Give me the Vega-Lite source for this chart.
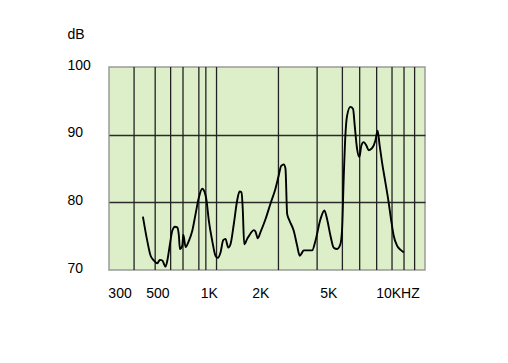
{
  "$schema": "https://vega.github.io/schema/vega-lite/v6.json",
  "width": 316,
  "height": 203,
  "autosize": {"type": "none"},
  "padding": {"left": 109, "top": 67, "right": 83, "bottom": 93},
  "background": "white",
  "config": {
    "view": {"fill": "#dcefc8", "stroke": "#9a9a9a", "strokeWidth": 1.5},
    "font": "Liberation Sans"
  },
  "datasets": {
    "grid": [
      {"f": 380}, {"f": 505}, {"f": 622}, {"f": 735}, {"f": 910}, {"f": 1000}, {"f": 1155},
      {"f": 2661}, {"f": 4482}, {"f": 6301}, {"f": 7955}, {"f": 10000}, {"f": 12303}, {"f": 14463}, {"f": 16683}
    ],
    "curve": [
      {"f": 428, "db": 77.9}, {"f": 454, "db": 74.3}, {"f": 475, "db": 72.1}, {"f": 497, "db": 71.4},
      {"f": 520, "db": 71.0}, {"f": 538, "db": 71.5}, {"f": 556, "db": 71.4}, {"f": 581, "db": 70.5},
      {"f": 595, "db": 71.4}, {"f": 616, "db": 73.8}, {"f": 636, "db": 75.8}, {"f": 659, "db": 76.4},
      {"f": 680, "db": 76.3}, {"f": 695, "db": 75.1}, {"f": 705, "db": 73.1}, {"f": 728, "db": 73.6},
      {"f": 738, "db": 75.2}, {"f": 761, "db": 73.4}, {"f": 795, "db": 74.3}, {"f": 833, "db": 75.8},
      {"f": 871, "db": 78.3}, {"f": 910, "db": 80.7}, {"f": 952, "db": 82.0}, {"f": 973, "db": 81.8},
      {"f": 1009, "db": 80.3}, {"f": 1041, "db": 77.3}, {"f": 1090, "db": 74.3}, {"f": 1139, "db": 72.1},
      {"f": 1175, "db": 71.8}, {"f": 1219, "db": 72.6}, {"f": 1264, "db": 74.4}, {"f": 1304, "db": 74.6},
      {"f": 1352, "db": 73.3}, {"f": 1394, "db": 73.8}, {"f": 1458, "db": 76.8}, {"f": 1526, "db": 80.3},
      {"f": 1575, "db": 81.6}, {"f": 1618, "db": 81.5}, {"f": 1646, "db": 78.8}, {"f": 1677, "db": 73.8},
      {"f": 1746, "db": 74.6}, {"f": 1826, "db": 75.4}, {"f": 1909, "db": 75.9}, {"f": 1952, "db": 75.7},
      {"f": 2014, "db": 74.7}, {"f": 2089, "db": 75.6}, {"f": 2234, "db": 77.5}, {"f": 2389, "db": 79.8},
      {"f": 2556, "db": 82.0}, {"f": 2673, "db": 84.0}, {"f": 2760, "db": 85.4}, {"f": 2858, "db": 85.6},
      {"f": 2925, "db": 85.0}, {"f": 2992, "db": 78.3}, {"f": 3088, "db": 77.3}, {"f": 3270, "db": 75.8},
      {"f": 3423, "db": 73.6}, {"f": 3546, "db": 72.1}, {"f": 3628, "db": 72.4}, {"f": 3742, "db": 72.9},
      {"f": 4003, "db": 72.9}, {"f": 4192, "db": 72.9}, {"f": 4381, "db": 74.3}, {"f": 4687, "db": 77.5},
      {"f": 4945, "db": 78.8}, {"f": 5128, "db": 77.5}, {"f": 5362, "db": 75.1}, {"f": 5605, "db": 73.3},
      {"f": 5868, "db": 73.1}, {"f": 6133, "db": 73.8}, {"f": 6277, "db": 76.1}, {"f": 6412, "db": 83.5},
      {"f": 6561, "db": 89.9}, {"f": 6713, "db": 92.8}, {"f": 7018, "db": 94.1}, {"f": 7278, "db": 93.8},
      {"f": 7436, "db": 91.4}, {"f": 7681, "db": 87.9}, {"f": 7923, "db": 86.7}, {"f": 8139, "db": 88.4},
      {"f": 8395, "db": 88.9}, {"f": 8706, "db": 88.4}, {"f": 8979, "db": 87.7}, {"f": 9400, "db": 88.0},
      {"f": 9827, "db": 89.1}, {"f": 10135, "db": 90.6}, {"f": 10411, "db": 88.4}, {"f": 10754, "db": 85.9},
      {"f": 11243, "db": 83.0}, {"f": 11755, "db": 80.0}, {"f": 12141, "db": 77.5}, {"f": 12573, "db": 75.1},
      {"f": 13164, "db": 73.6}, {"f": 13763, "db": 73.0}, {"f": 14425, "db": 72.6}
    ]
  },
  "layer": [
    {
      "data": {"name": "grid"},
      "mark": {"type": "rule", "color": "#222222", "strokeWidth": 1.3},
      "encoding": {
        "x": {
          "field": "f", "type": "quantitative",
          "scale": {"type": "log", "domain": [271, 19190], "nice": false},
          "axis": {
            "values": [300, 500, 1000, 2000, 5000, 10000],
            "labelExpr": "datum.value == 300 ? '300' : datum.value == 500 ? '500' : datum.value == 1000 ? '1K' : datum.value == 2000 ? '2K' : datum.value == 5000 ? '5K' : '10KHZ'",
            "labelAlign": {"condition": {"test": "datum.value == 10000", "value": "left"}, "value": "center"},
            "labelOffset": {"condition": {"test": "datum.value == 10000", "value": -1}, "value": 3},
            "labelFontSize": 14,
            "labelColor": "#000000",
            "labelPadding": 16,
            "labelFlush": false,
            "labelOverlap": false,
            "grid": false,
            "domain": false,
            "ticks": false,
            "title": null
          }
        }
      }
    },
    {
      "data": {"name": "curve"},
      "mark": {"type": "line", "color": "#000000", "strokeWidth": 1.9, "interpolate": "monotone"},
      "encoding": {
        "x": {"field": "f", "type": "quantitative"},
        "y": {
          "field": "db", "type": "quantitative",
          "scale": {"domain": [70, 100], "nice": false, "zero": false},
          "axis": {
            "values": [70, 80, 90, 100],
            "grid": true,
            "gridColor": "#2a2a2a",
            "gridWidth": 1.5,
            "gridOpacity": {"condition": {"test": "datum.value == 80 || datum.value == 90", "value": 1}, "value": 0},
            "domain": false,
            "ticks": false,
            "labelAlign": "left",
            "labelBaseline": "middle",
            "labelPadding": 42,
            "labelOffset": -2,
            "labelFontSize": 14,
            "labelColor": "#000000",
            "title": "dB",
            "titleAngle": 0,
            "titleAlign": "left",
            "titleBaseline": "middle",
            "titleX": -42,
            "titleY": -33,
            "titleFontSize": 14,
            "titleFontWeight": "normal",
            "titleColor": "#000000"
          }
        }
      }
    }
  ]
}
